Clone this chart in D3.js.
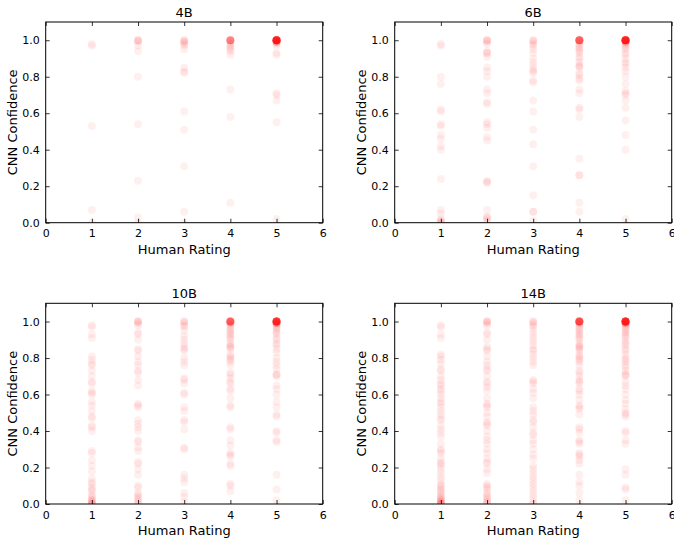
<script src="https://d3js.org/d3.v7.min.js"></script>

<style>
  body { margin: 0; background: #fff; }
  svg text { font-family: "DejaVu Sans", sans-serif; fill: #000; }
</style>

<body>
  <div id="vis"></div>
</body>

<script>
  // Panel titles and the human rating each column belongs to
  const panelTitles = ['4B', '6B', '10B', '14B']
  const ratings = [1, 2, 3, 4, 5]
  const xTicks = [0, 1, 2, 3, 4, 5, 6]
  const yTicks = [0, 0.2, 0.4, 0.6, 0.8, 1.0]

  // CNN confidence values, one list per human rating (1..5)
  const conf4B = [
    [0.98, 0.97, 0.53, 0.07, 0.0],
    [1.0, 1.0, 1.0, 0.99, 0.97, 0.94, 0.80, 0.54, 0.23, 0.03, 0.0],
    [1.0, 1.0, 0.99, 0.99, 0.98, 0.97, 0.95, 0.85, 0.83, 0.82, 0.61, 0.51, 0.31, 0.06, 0.0],
    [1.0, 1.0, 1.0, 1.0, 1.0, 1.0, 1.0, 1.0, 1.0, 1.0, 0.99, 0.98, 0.97, 0.96, 0.95, 0.94, 0.92, 0.73, 0.58, 0.11],
    [1.0, 1.0, 1.0, 1.0, 1.0, 1.0, 1.0, 1.0, 1.0, 1.0, 1.0, 1.0, 1.0, 1.0, 1.0, 1.0, 1.0, 1.0, 1.0, 1.0,
     1.0, 1.0, 1.0, 1.0, 1.0, 1.0, 1.0, 1.0, 1.0, 1.0, 0.99, 0.99, 0.99, 0.99, 0.99, 0.98, 0.97, 0.93, 0.92,
     0.71, 0.70, 0.67, 0.55, 0.02]
  ]

  const conf6B = [
    [0.98, 0.97, 0.80, 0.76, 0.62, 0.61, 0.54, 0.53, 0.48, 0.46, 0.42, 0.40, 0.24, 0.07, 0.05, 0.02, 0.01, 0.01, 0.0, 0.0],
    [1.0, 1.0, 1.0, 0.99, 0.98, 0.94, 0.93, 0.93, 0.91, 0.85, 0.83, 0.80, 0.73, 0.71, 0.66, 0.65, 0.55, 0.54, 0.52,
     0.47, 0.45, 0.23, 0.22, 0.22, 0.07, 0.03, 0.03, 0.02, 0.01],
    [1.0, 1.0, 0.99, 0.98, 0.97, 0.95, 0.93, 0.90, 0.88, 0.86, 0.84, 0.83, 0.82, 0.78, 0.77, 0.67, 0.61, 0.51, 0.43,
     0.31, 0.15, 0.06, 0.06, 0.01],
    [1.0, 1.0, 1.0, 1.0, 1.0, 1.0, 1.0, 1.0, 1.0, 1.0, 1.0, 1.0, 1.0, 1.0, 1.0, 0.99, 0.98, 0.97, 0.96, 0.95, 0.94,
     0.93, 0.91, 0.90, 0.88, 0.86, 0.86, 0.85, 0.82, 0.81, 0.79, 0.78, 0.73, 0.71, 0.63, 0.62, 0.58, 0.35, 0.26,
     0.26, 0.11, 0.06],
    [1.0, 1.0, 1.0, 1.0, 1.0, 1.0, 1.0, 1.0, 1.0, 1.0, 1.0, 1.0, 1.0, 1.0, 1.0, 1.0, 1.0, 1.0, 1.0, 1.0, 1.0, 1.0,
     1.0, 1.0, 1.0, 1.0, 1.0, 1.0, 1.0, 0.99, 0.99, 0.99, 0.99, 0.98, 0.97, 0.96, 0.95, 0.93, 0.92, 0.90, 0.88,
     0.87, 0.85, 0.83, 0.80, 0.76, 0.72, 0.71, 0.70, 0.67, 0.63, 0.56, 0.48, 0.40, 0.02]
  ]

  const conf10B = [
    [0.98, 0.97, 0.93, 0.91, 0.81, 0.79, 0.77, 0.76, 0.73, 0.70, 0.67, 0.66, 0.62, 0.61, 0.60, 0.56, 0.54, 0.51,
     0.48, 0.47, 0.43, 0.42, 0.40, 0.29, 0.28, 0.24, 0.21, 0.18, 0.14, 0.12, 0.11, 0.09, 0.08, 0.07, 0.05, 0.04,
     0.03, 0.02, 0.02, 0.01, 0.01, 0.0, 0.0, 0.0],
    [1.0, 1.0, 1.0, 0.99, 0.98, 0.94, 0.93, 0.90, 0.85, 0.84, 0.81, 0.78, 0.76, 0.73, 0.72, 0.68, 0.65, 0.55, 0.54,
     0.53, 0.46, 0.44, 0.42, 0.40, 0.35, 0.34, 0.31, 0.29, 0.23, 0.22, 0.19, 0.16, 0.10, 0.09, 0.06, 0.05, 0.04,
     0.03, 0.02, 0.01, 0.0],
    [1.0, 1.0, 0.99, 0.98, 0.97, 0.95, 0.92, 0.90, 0.88, 0.86, 0.85, 0.84, 0.80, 0.78, 0.76, 0.69, 0.68, 0.66, 0.61,
     0.60, 0.53, 0.51, 0.46, 0.45, 0.41, 0.31, 0.30, 0.16, 0.14, 0.12, 0.06, 0.04, 0.01],
    [1.0, 1.0, 1.0, 1.0, 1.0, 1.0, 1.0, 1.0, 1.0, 1.0, 1.0, 1.0, 1.0, 1.0, 1.0, 0.99, 0.99, 0.98, 0.97, 0.96, 0.95,
     0.94, 0.93, 0.92, 0.91, 0.90, 0.88, 0.87, 0.86, 0.86, 0.85, 0.82, 0.81, 0.80, 0.79, 0.78, 0.76, 0.72, 0.71,
     0.69, 0.67, 0.66, 0.63, 0.62, 0.58, 0.54, 0.53, 0.42, 0.41, 0.35, 0.32, 0.28, 0.27, 0.26, 0.22, 0.21, 0.11,
     0.10, 0.07],
    [1.0, 1.0, 1.0, 1.0, 1.0, 1.0, 1.0, 1.0, 1.0, 1.0, 1.0, 1.0, 1.0, 1.0, 1.0, 1.0, 1.0, 1.0, 1.0, 1.0, 1.0, 1.0,
     1.0, 1.0, 1.0, 0.99, 0.99, 0.99, 0.99, 0.99, 0.98, 0.97, 0.96, 0.95, 0.94, 0.93, 0.91, 0.90, 0.88, 0.87, 0.85,
     0.83, 0.80, 0.78, 0.76, 0.74, 0.71, 0.71, 0.70, 0.65, 0.63, 0.60, 0.56, 0.53, 0.49, 0.48, 0.40, 0.39, 0.35,
     0.34, 0.16, 0.08, 0.02]
  ]

  const conf14B = [
    [0.98, 0.97, 0.93, 0.91, 0.82, 0.81, 0.79, 0.77, 0.74, 0.73, 0.70, 0.68, 0.66, 0.65, 0.63, 0.62, 0.60, 0.58,
     0.56, 0.55, 0.53, 0.51, 0.49, 0.47, 0.46, 0.43, 0.41, 0.39, 0.37, 0.33, 0.30, 0.29, 0.28, 0.25, 0.23, 0.22,
     0.21, 0.19, 0.17, 0.15, 0.13, 0.11, 0.10, 0.09, 0.08, 0.07, 0.06, 0.05, 0.04, 0.03, 0.03, 0.02, 0.02, 0.01,
     0.01, 0.01, 0.0, 0.0, 0.0, 0.0],
    [1.0, 1.0, 1.0, 0.99, 0.98, 0.94, 0.93, 0.90, 0.86, 0.85, 0.84, 0.81, 0.78, 0.76, 0.74, 0.73, 0.70, 0.67, 0.66,
     0.64, 0.62, 0.58, 0.55, 0.54, 0.53, 0.50, 0.48, 0.45, 0.44, 0.43, 0.40, 0.37, 0.35, 0.33, 0.30, 0.28, 0.25,
     0.23, 0.22, 0.19, 0.17, 0.11, 0.10, 0.09, 0.08, 0.06, 0.05, 0.04, 0.03, 0.02, 0.01, 0.01, 0.0],
    [1.0, 1.0, 0.99, 0.98, 0.97, 0.95, 0.93, 0.91, 0.89, 0.87, 0.85, 0.84, 0.82, 0.80, 0.78, 0.76, 0.68, 0.67, 0.66,
     0.63, 0.61, 0.58, 0.53, 0.51, 0.49, 0.46, 0.45, 0.42, 0.39, 0.38, 0.35, 0.33, 0.30, 0.27, 0.25, 0.21, 0.19,
     0.17, 0.15, 0.13, 0.11, 0.09, 0.07, 0.05, 0.03, 0.01, 0.0],
    [1.0, 1.0, 1.0, 1.0, 1.0, 1.0, 1.0, 1.0, 1.0, 1.0, 1.0, 1.0, 1.0, 1.0, 1.0, 1.0, 1.0, 1.0, 0.99, 0.99, 0.98,
     0.97, 0.96, 0.95, 0.94, 0.93, 0.92, 0.91, 0.90, 0.88, 0.87, 0.86, 0.86, 0.85, 0.84, 0.82, 0.81, 0.80, 0.79,
     0.78, 0.76, 0.73, 0.72, 0.70, 0.68, 0.67, 0.66, 0.63, 0.62, 0.60, 0.57, 0.54, 0.53, 0.52, 0.49, 0.42, 0.41,
     0.39, 0.35, 0.34, 0.33, 0.28, 0.27, 0.26, 0.24, 0.22, 0.16, 0.12, 0.10, 0.06, 0.02],
    [1.0, 1.0, 1.0, 1.0, 1.0, 1.0, 1.0, 1.0, 1.0, 1.0, 1.0, 1.0, 1.0, 1.0, 1.0, 1.0, 1.0, 1.0, 1.0, 1.0, 1.0, 1.0,
     1.0, 1.0, 1.0, 1.0, 1.0, 1.0, 0.99, 0.99, 0.99, 0.99, 0.99, 0.98, 0.97, 0.96, 0.95, 0.94, 0.93, 0.92, 0.91,
     0.89, 0.88, 0.87, 0.85, 0.84, 0.82, 0.80, 0.79, 0.78, 0.76, 0.75, 0.73, 0.71, 0.71, 0.70, 0.67, 0.65, 0.63,
     0.60, 0.57, 0.55, 0.52, 0.50, 0.49, 0.48, 0.40, 0.39, 0.35, 0.33, 0.19, 0.16, 0.09, 0.08, 0.02]
  ]

  const panelData = [conf4B, conf6B, conf10B, conf14B]

  // Axes boxes in page pixels (left, top), all the same size
  const origins = [[45.7, 22], [394.7, 22], [45.7, 303.3], [394.7, 303.3]]
  const plotW = 277
  const plotH = 200.7

  let svg = d3.select('#vis').append('svg')
    .attr('width', 674)
    .attr('height', 538)

  let x = d3.scaleLinear().domain([0, 6]).range([0, plotW])
  let y = d3.scaleLinear().domain([0, 1.1]).range([plotH, 0])

  panelData.forEach(function (cols, i) {
    let g = svg.append('g')
      .attr('transform', 'translate(' + origins[i][0] + ',' + origins[i][1] + ')')

    // clip points to the axes box like matplotlib does
    svg.append('clipPath').attr('id', 'clip' + i)
      .append('rect').attr('width', plotW).attr('height', plotH)

    let points = []
    cols.forEach(function (vals, j) {
      vals.forEach(function (v) { points.push({r: ratings[j], c: v}) })
    })

    g.append('g')
      .attr('clip-path', 'url(#clip' + i + ')')
      .selectAll('circle')
      .data(points)
      .enter()
      .append('circle')
      .attr('cx', function (d) { return x(d.r) })
      .attr('cy', function (d) { return y(d.c) })
      .attr('r', 4)
      .attr('fill', 'red')
      .attr('fill-opacity', 0.06)

    // ticks pointing inward on all four sides
    let xb = d3.axisBottom(x).tickValues(xTicks).tickSize(-4).tickPadding(7).tickFormat(d3.format('d'))
    let xt = d3.axisTop(x).tickValues(xTicks).tickSize(-4).tickFormat('')
    let yl = d3.axisLeft(y).tickValues(yTicks).tickSize(-4).tickPadding(6).tickFormat(d3.format('.1f'))
    let yr = d3.axisRight(y).tickValues(yTicks).tickSize(-4).tickFormat('')

    let axes = [
      g.append('g').attr('transform', 'translate(0,' + plotH + ')').call(xb),
      g.append('g').call(xt),
      g.append('g').call(yl),
      g.append('g').attr('transform', 'translate(' + plotW + ',0)').call(yr)
    ]
    axes.forEach(function (a) {
      a.select('.domain').remove()
      a.selectAll('line').attr('stroke', '#000').attr('stroke-width', 0.8)
      a.selectAll('text').style('font-size', '11px').attr('fill', '#000')
    })

    g.append('rect')
      .attr('width', plotW)
      .attr('height', plotH)
      .attr('fill', 'none')
      .attr('stroke', '#000')
      .attr('stroke-width', 1)

    g.append('text')
      .attr('x', plotW / 2)
      .attr('y', -5)
      .attr('text-anchor', 'middle')
      .style('font-size', '13px')
      .text(panelTitles[i])

    g.append('text')
      .attr('x', plotW / 2)
      .attr('y', plotH + 31)
      .attr('text-anchor', 'middle')
      .style('font-size', '13px')
      .text('Human Rating')

    g.append('text')
      .attr('transform', 'translate(-29,' + plotH / 2 + ')rotate(-90)')
      .attr('text-anchor', 'middle')
      .style('font-size', '13px')
      .text('CNN Confidence')
  })
</script>
